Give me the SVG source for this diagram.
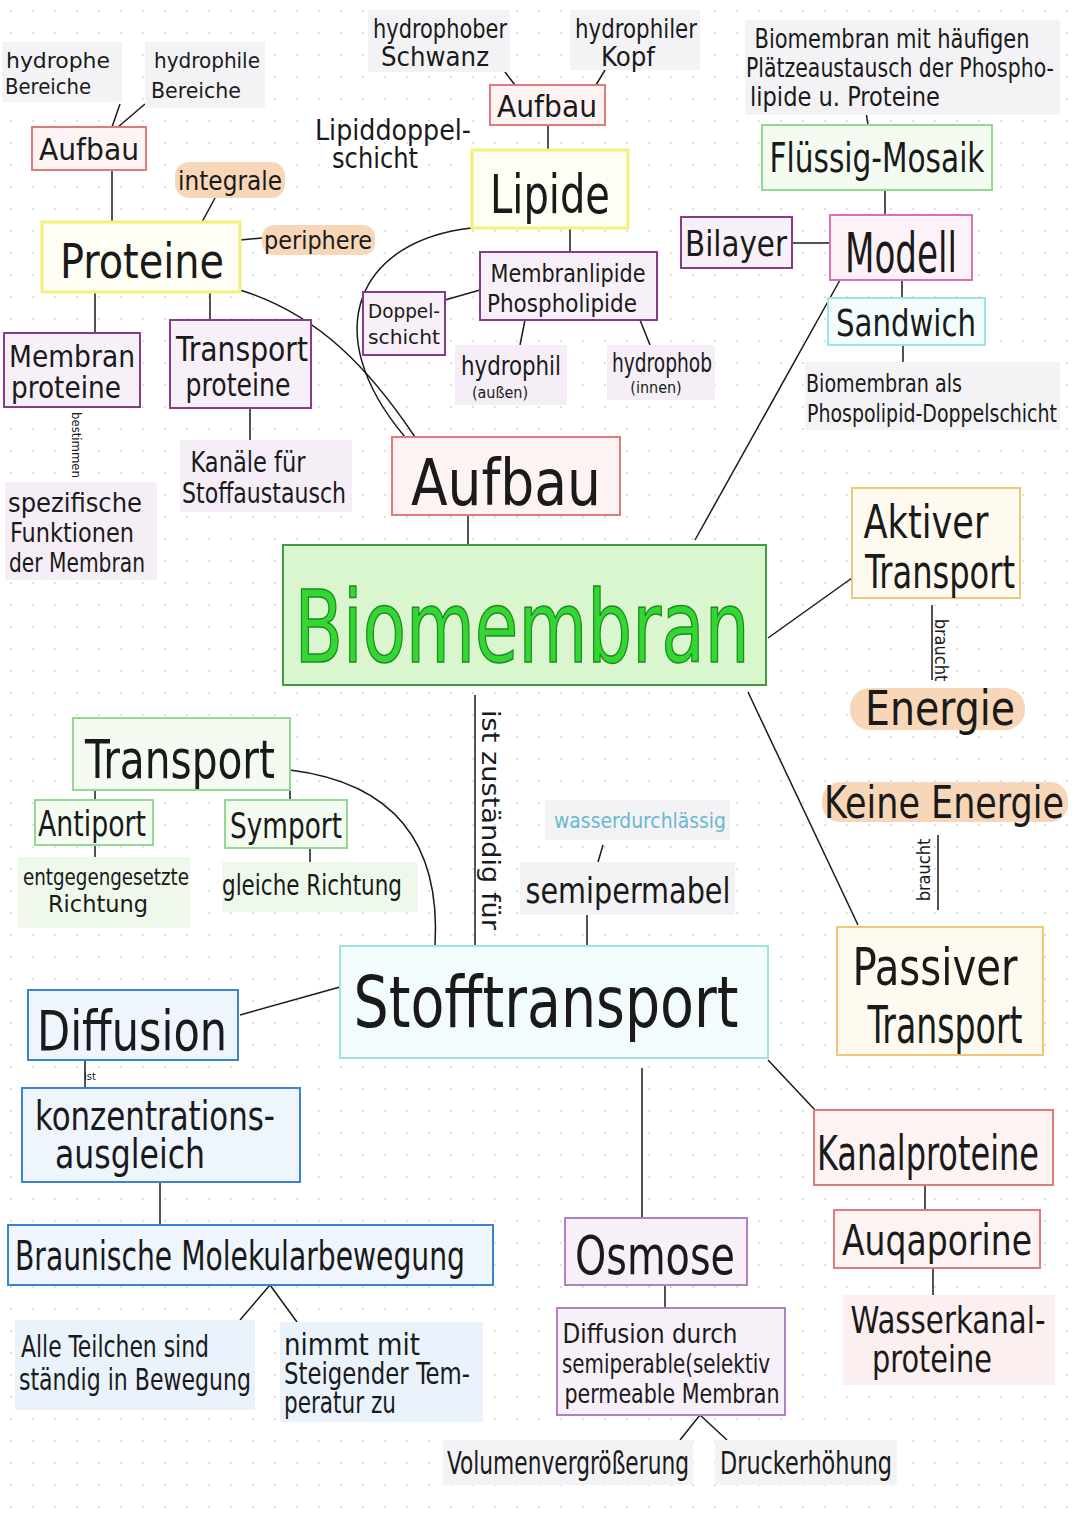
<svg xmlns="http://www.w3.org/2000/svg" width="1080" height="1525" viewBox="0 0 1080 1525">
<defs>
<pattern id="dots" width="22" height="22" patternUnits="userSpaceOnUse"><circle cx="11" cy="11" r="1" fill="#d4d4d8"/></pattern>
<style>
text{font-family:"DejaVu Sans Condensed","Liberation Sans",sans-serif;fill:#1a1a1a;text-anchor:middle}
.n{fill:#f3f3f6;stroke:none}
.red{fill:#fdf3f3;stroke:#e07b7b;stroke-width:2}
.yel{fill:#fffef4;stroke:#f3ef7a;stroke-width:3}
.pur{fill:#f8f0f8;stroke:#8a3a8a;stroke-width:2}
.grn{fill:#f4fcf2;stroke:#94d894;stroke-width:2}
.cyn{fill:#f3fcfc;stroke:#9fe3e3;stroke-width:2}
.blu{fill:#eef5fd;stroke:#3a82d2;stroke-width:2}
.org{fill:#fffaf0;stroke:#f2c677;stroke-width:2}
.mag{fill:#fdf2f8;stroke:#e070b0;stroke-width:2}
.lp{fill:#f5eef7;stroke:none}
.lg{fill:#eef9ec;stroke:none}
.lb{fill:#eaf3fc;stroke:none}
.lr{fill:#fcefef;stroke:none}
.hl{fill:#f7d7b8;stroke:none}
.c line,.c path{stroke:#1a1a1a;stroke-width:1.5;fill:none}
</style>
</defs>
<rect width="1080" height="1525" fill="#fff"/>
<rect width="1080" height="1525" fill="url(#dots)"/>

<g class="c" id="connectors">
<line x1="112" y1="127" x2="120" y2="104"/><line x1="118" y1="127" x2="145" y2="104"/>
<line x1="112" y1="170" x2="112" y2="222"/>
<line x1="215" y1="198" x2="202" y2="222"/>
<line x1="240" y1="240" x2="262" y2="238"/>
<line x1="95" y1="292" x2="95" y2="333"/>
<line x1="210" y1="292" x2="210" y2="320"/>
<line x1="250" y1="408" x2="250" y2="440"/>
<path d="M240 290 C320 315 370 370 415 437"/>
<line x1="505" y1="72" x2="515" y2="85"/><line x1="605" y1="70" x2="596" y2="85"/>
<line x1="548" y1="125" x2="548" y2="150"/>
<path d="M472 228 C360 240 315 330 405 437"/>
<line x1="570" y1="228" x2="570" y2="252"/>
<line x1="445" y1="300" x2="480" y2="290"/>
<line x1="525" y1="320" x2="520" y2="345"/><line x1="640" y1="320" x2="650" y2="345"/>
<line x1="468" y1="515" x2="468" y2="545"/>
<line x1="695" y1="540" x2="840" y2="280"/>
<line x1="792" y1="243" x2="830" y2="243"/>
<line x1="885" y1="215" x2="885" y2="190"/><line x1="868" y1="125" x2="866" y2="112"/>
<line x1="902" y1="280" x2="902" y2="298"/><line x1="903" y1="345" x2="903" y2="362"/>
<line x1="768" y1="638" x2="852" y2="578"/>
<line x1="748" y1="692" x2="858" y2="925"/>
<line x1="475" y1="695" x2="475" y2="946"/>
<path d="M290 770 C410 785 440 860 435 946"/>
<line x1="95" y1="790" x2="95" y2="800"/><line x1="290" y1="790" x2="290" y2="800"/>
<line x1="95" y1="845" x2="95" y2="857"/><line x1="310" y1="848" x2="310" y2="862"/>
<line x1="603" y1="845" x2="598" y2="862"/><line x1="587" y1="915" x2="587" y2="946"/>
<line x1="340" y1="987" x2="240" y2="1015"/>
<line x1="85" y1="1060" x2="85" y2="1088"/>
<line x1="160" y1="1182" x2="160" y2="1225"/>
<line x1="270" y1="1285" x2="240" y2="1320"/><line x1="270" y1="1285" x2="297" y2="1322"/>
<line x1="642" y1="1068" x2="642" y2="1218"/>
<line x1="665" y1="1285" x2="665" y2="1308"/>
<line x1="700" y1="1415" x2="680" y2="1440"/><line x1="700" y1="1415" x2="727" y2="1440"/>
<line x1="768" y1="1060" x2="815" y2="1110"/>
<line x1="925" y1="1185" x2="925" y2="1210"/><line x1="933" y1="1268" x2="933" y2="1295"/>
<line x1="932" y1="605" x2="932" y2="680"/><line x1="938" y1="835" x2="938" y2="910"/>
</g>

<g id="hydrophobeBereiche"><rect class="n" x="2" y="42" width="120" height="60"/><text x="58" y="68" font-size="22" textLength="104" lengthAdjust="spacingAndGlyphs">hydrophe</text><text x="48" y="94" font-size="22" textLength="86" lengthAdjust="spacingAndGlyphs">Bereiche</text></g>
<g id="hydrophileBereiche"><rect class="n" x="145" y="42" width="120" height="66"/><text x="207" y="68" font-size="22" textLength="106" lengthAdjust="spacingAndGlyphs">hydrophile</text><text x="196" y="98" font-size="22" textLength="90" lengthAdjust="spacingAndGlyphs">Bereiche</text></g>
<g id="aufbauP"><rect class="red" x="32" y="127" width="114" height="43"/><text x="89" y="160" font-size="30" textLength="100" lengthAdjust="spacingAndGlyphs">Aufbau</text></g>
<g id="integrale"><rect class="hl" x="175" y="162" width="110" height="36" rx="14"/><text x="230" y="190" font-size="26" textLength="104" lengthAdjust="spacingAndGlyphs">integrale</text></g>
<g id="proteine"><rect class="yel" x="42" y="222" width="198" height="70"/><text x="142" y="278" font-size="48" textLength="164" lengthAdjust="spacingAndGlyphs">Proteine</text></g>
<g id="periphere"><rect class="hl" x="262" y="225" width="113" height="30" rx="12"/><text x="318" y="249" font-size="25" textLength="108" lengthAdjust="spacingAndGlyphs">periphere</text></g>
<g id="membranproteine"><rect class="pur" x="4" y="333" width="136" height="74"/><text x="72" y="367" font-size="30" textLength="126" lengthAdjust="spacingAndGlyphs">Membran</text><text x="66" y="398" font-size="30" textLength="110" lengthAdjust="spacingAndGlyphs">proteine</text></g>
<g id="transportproteine"><rect class="pur" x="170" y="320" width="141" height="88"/><text x="242" y="361" font-size="34" textLength="132" lengthAdjust="spacingAndGlyphs">Transport</text><text x="238" y="396" font-size="32" textLength="105" lengthAdjust="spacingAndGlyphs">proteine</text></g>
<g id="bestimmen"><text x="0" y="0" font-size="13" transform="translate(72,445) rotate(90)">bestimmen</text></g>
<g id="spezifisch"><rect class="lp" x="5" y="482" width="152" height="98"/><text x="75" y="512" font-size="26" textLength="134" lengthAdjust="spacingAndGlyphs">spezifische</text><text x="72" y="542" font-size="26" textLength="124" lengthAdjust="spacingAndGlyphs">Funktionen</text><text x="77" y="572" font-size="26" textLength="136" lengthAdjust="spacingAndGlyphs">der Membran</text></g>
<g id="kanaele"><rect class="lp" x="180" y="440" width="172" height="72"/><text x="248" y="472" font-size="28" textLength="115" lengthAdjust="spacingAndGlyphs">Kanäle für</text><text x="264" y="503" font-size="28" textLength="164" lengthAdjust="spacingAndGlyphs">Stoffaustausch</text></g>
<g id="hydrophober"><rect class="n" x="368" y="10" width="142" height="62"/><text x="440" y="38" font-size="26" textLength="134" lengthAdjust="spacingAndGlyphs">hydrophober</text><text x="435" y="66" font-size="26" textLength="108" lengthAdjust="spacingAndGlyphs">Schwanz</text></g>
<g id="hydrophiler"><rect class="n" x="570" y="10" width="130" height="60"/><text x="636" y="38" font-size="26" textLength="122" lengthAdjust="spacingAndGlyphs">hydrophiler</text><text x="628" y="66" font-size="26" textLength="54" lengthAdjust="spacingAndGlyphs">Kopf</text></g>
<g id="aufbauL"><rect class="red" x="490" y="85" width="115" height="40"/><text x="547" y="117" font-size="30" textLength="100" lengthAdjust="spacingAndGlyphs">Aufbau</text></g>
<g id="lipiddoppel"><text x="393" y="140" font-size="28" textLength="156" lengthAdjust="spacingAndGlyphs">Lipiddoppel-</text><text x="375" y="168" font-size="28" textLength="86" lengthAdjust="spacingAndGlyphs">schicht</text></g>
<g id="lipide"><rect class="yel" x="472" y="150" width="156" height="78"/><text x="550" y="213" font-size="54" textLength="120" lengthAdjust="spacingAndGlyphs">Lipide</text></g>
<g id="membranlipide"><rect class="pur" x="480" y="252" width="177" height="68"/><text x="568" y="282" font-size="24" textLength="155" lengthAdjust="spacingAndGlyphs">Membranlipide</text><text x="562" y="312" font-size="24" textLength="150" lengthAdjust="spacingAndGlyphs">Phospholipide</text></g>
<g id="doppelschicht"><rect class="pur" x="363" y="292" width="82" height="63"/><text x="404" y="318" font-size="20" textLength="72" lengthAdjust="spacingAndGlyphs">Doppel-</text><text x="404" y="344" font-size="20" textLength="72" lengthAdjust="spacingAndGlyphs">schicht</text></g>
<g id="hydrophil"><rect class="lp" x="455" y="345" width="112" height="60"/><text x="511" y="375" font-size="26" textLength="100" lengthAdjust="spacingAndGlyphs">hydrophil</text><text x="500" y="398" font-size="16">(außen)</text></g>
<g id="hydrophob"><rect class="lp" x="607" y="345" width="108" height="55"/><text x="662" y="372" font-size="26" textLength="100" lengthAdjust="spacingAndGlyphs">hydrophob</text><text x="656" y="393" font-size="16">(innen)</text></g>
<g id="aufbauMain"><rect class="red" x="392" y="437" width="228" height="78"/><text x="506" y="505" font-size="64" textLength="190" lengthAdjust="spacingAndGlyphs">Aufbau</text></g>
<g id="fluessigText"><rect class="n" x="745" y="20" width="315" height="95"/><text x="892" y="48" font-size="26" textLength="275" lengthAdjust="spacingAndGlyphs">Biomembran mit häufigen</text><text x="900" y="77" font-size="26" textLength="308" lengthAdjust="spacingAndGlyphs">Plätzeaustausch der Phospho-</text><text x="845" y="106" font-size="26" textLength="190" lengthAdjust="spacingAndGlyphs">lipide u. Proteine</text></g>
<g id="fluessig"><rect class="grn" x="762" y="125" width="230" height="65"/><text x="877" y="172" font-size="40" textLength="215" lengthAdjust="spacingAndGlyphs">Flüssig-Mosaik</text></g>
<g id="bilayer"><rect class="pur" x="681" y="217" width="111" height="51"/><text x="736" y="256" font-size="36" textLength="102" lengthAdjust="spacingAndGlyphs">Bilayer</text></g>
<g id="modell"><rect class="mag" x="830" y="215" width="142" height="65"/><text x="901" y="272" font-size="56" textLength="112" lengthAdjust="spacingAndGlyphs">Modell</text></g>
<g id="sandwich"><rect class="cyn" x="828" y="298" width="157" height="47"/><text x="906" y="336" font-size="38" textLength="140" lengthAdjust="spacingAndGlyphs">Sandwich</text></g>
<g id="sandwichText"><rect class="n" x="805" y="362" width="255" height="68"/><text x="884" y="392" font-size="25" textLength="156" lengthAdjust="spacingAndGlyphs">Biomembran als</text><text x="932" y="422" font-size="25" textLength="250" lengthAdjust="spacingAndGlyphs">Phospolipid-Doppelschicht</text></g>
<g id="biomembran"><rect x="283" y="545" width="483" height="140" fill="#d9f6cf" stroke="#3e9b3e" stroke-width="2"/><text x="522" y="662" font-size="100" textLength="455" lengthAdjust="spacingAndGlyphs" style="fill:#33d633;stroke:#1e8a1e;stroke-width:1.5">Biomembran</text></g>
<g id="aktiver"><rect class="org" x="852" y="488" width="168" height="110"/><text x="926" y="538" font-size="46" textLength="125" lengthAdjust="spacingAndGlyphs">Aktiver</text><text x="940" y="588" font-size="46" textLength="150" lengthAdjust="spacingAndGlyphs">Transport</text></g>
<g id="braucht1"><text x="0" y="0" font-size="18" transform="translate(935,650) rotate(90)">braucht</text></g>
<g id="energie"><rect class="hl" x="850" y="688" width="175" height="42" rx="20"/><text x="940" y="725" font-size="48" textLength="150" lengthAdjust="spacingAndGlyphs">Energie</text></g>
<g id="keineEnergie"><rect class="hl" x="822" y="782" width="246" height="40" rx="18"/><text x="944" y="818" font-size="44" textLength="240" lengthAdjust="spacingAndGlyphs">Keine Energie</text></g>
<g id="braucht2"><text x="0" y="0" font-size="18" transform="translate(930,870) rotate(-90)">braucht</text></g>
<g id="passiver"><rect class="org" x="837" y="927" width="206" height="128"/><text x="935" y="985" font-size="52" textLength="165" lengthAdjust="spacingAndGlyphs">Passiver</text><text x="945" y="1043" font-size="52" textLength="155" lengthAdjust="spacingAndGlyphs">Transport</text></g>
<g id="zustaendig"><text x="0" y="0" font-size="24" transform="translate(482,820) rotate(90)" textLength="220" lengthAdjust="spacingAndGlyphs">ist zuständig für</text></g>
<g id="transport"><rect class="grn" x="73" y="718" width="217" height="72"/><text x="180" y="778" font-size="54" textLength="190" lengthAdjust="spacingAndGlyphs">Transport</text></g>
<g id="antiport"><rect class="grn" x="35" y="800" width="118" height="45"/><text x="92" y="836" font-size="36" textLength="108" lengthAdjust="spacingAndGlyphs">Antiport</text></g>
<g id="symport"><rect class="grn" x="225" y="800" width="122" height="48"/><text x="286" y="838" font-size="36" textLength="112" lengthAdjust="spacingAndGlyphs">Symport</text></g>
<g id="entgegen"><rect class="lg" x="18" y="857" width="172" height="71"/><text x="106" y="885" font-size="23" textLength="166" lengthAdjust="spacingAndGlyphs">entgegengesetzte</text><text x="98" y="912" font-size="23" textLength="100" lengthAdjust="spacingAndGlyphs">Richtung</text></g>
<g id="gleiche"><rect class="lg" x="222" y="862" width="196" height="50"/><text x="312" y="895" font-size="28" textLength="180" lengthAdjust="spacingAndGlyphs">gleiche Richtung</text></g>
<g id="wasserdurch"><rect class="n" x="545" y="800" width="185" height="40"/><text x="640" y="828" font-size="22" textLength="172" lengthAdjust="spacingAndGlyphs" style="fill:#6ab8d0">wasserdurchlässig</text></g>
<g id="semipermabel"><rect class="n" x="520" y="862" width="215" height="53"/><text x="628" y="903" font-size="36" textLength="205" lengthAdjust="spacingAndGlyphs">semipermabel</text></g>
<g id="stofftransport"><rect class="cyn" x="340" y="946" width="428" height="112"/><text x="546" y="1027" font-size="72" textLength="385" lengthAdjust="spacingAndGlyphs">Stofftransport</text></g>
<g id="diffusion"><rect class="blu" x="28" y="990" width="210" height="70"/><text x="132" y="1050" font-size="56" textLength="190" lengthAdjust="spacingAndGlyphs">Diffusion</text></g>
<g id="ist"><text x="90" y="1080" font-size="11">ist</text></g>
<g id="konz"><rect class="blu" x="22" y="1088" width="278" height="94"/><text x="155" y="1130" font-size="40" textLength="240" lengthAdjust="spacingAndGlyphs">konzentrations-</text><text x="130" y="1168" font-size="40" textLength="150" lengthAdjust="spacingAndGlyphs">ausgleich</text></g>
<g id="braunische"><rect class="blu" x="8" y="1225" width="485" height="60"/><text x="240" y="1270" font-size="40" textLength="450" lengthAdjust="spacingAndGlyphs">Braunische Molekularbewegung</text></g>
<g id="alleTeilchen"><rect class="lb" x="15" y="1320" width="240" height="90"/><text x="115" y="1357" font-size="30" textLength="188" lengthAdjust="spacingAndGlyphs">Alle Teilchen sind</text><text x="135" y="1390" font-size="30" textLength="232" lengthAdjust="spacingAndGlyphs">ständig in Bewegung</text></g>
<g id="nimmt"><rect class="lb" x="280" y="1322" width="203" height="100"/><text x="352" y="1355" font-size="30" textLength="136" lengthAdjust="spacingAndGlyphs">nimmt  mit</text><text x="377" y="1384" font-size="30" textLength="186" lengthAdjust="spacingAndGlyphs">Steigender Tem-</text><text x="340" y="1413" font-size="30" textLength="112" lengthAdjust="spacingAndGlyphs">peratur zu</text></g>
<g id="osmose"><rect class="pur" x="565" y="1218" width="182" height="67" style="stroke:#b080c0"/><text x="655" y="1274" font-size="54" textLength="160" lengthAdjust="spacingAndGlyphs">Osmose</text></g>
<g id="osmoseText"><rect class="pur" x="557" y="1308" width="228" height="107" style="stroke:#b080c0"/><text x="650" y="1343" font-size="27" textLength="175" lengthAdjust="spacingAndGlyphs">Diffusion durch</text><text x="666" y="1373" font-size="27" textLength="208" lengthAdjust="spacingAndGlyphs">semiperable(selektiv</text><text x="672" y="1403" font-size="27" textLength="215" lengthAdjust="spacingAndGlyphs">permeable Membran</text></g>
<g id="volumen"><rect class="n" x="443" y="1440" width="250" height="45"/><text x="568" y="1474" font-size="32" textLength="242" lengthAdjust="spacingAndGlyphs">Volumenvergrößerung</text></g>
<g id="druck"><rect class="n" x="715" y="1440" width="182" height="45"/><text x="806" y="1474" font-size="32" textLength="172" lengthAdjust="spacingAndGlyphs">Druckerhöhung</text></g>
<g id="kanalproteine"><rect class="red" x="814" y="1110" width="239" height="75"/><text x="928" y="1170" font-size="48" textLength="222" lengthAdjust="spacingAndGlyphs">Kanalproteine</text></g>
<g id="auqaporine"><rect class="red" x="834" y="1210" width="206" height="58"/><text x="937" y="1255" font-size="42" textLength="190" lengthAdjust="spacingAndGlyphs">Auqaporine</text></g>
<g id="wasserkanal"><rect class="lr" x="843" y="1295" width="212" height="90"/><text x="948" y="1333" font-size="38" textLength="195" lengthAdjust="spacingAndGlyphs">Wasserkanal-</text><text x="932" y="1372" font-size="38" textLength="120" lengthAdjust="spacingAndGlyphs">proteine</text></g>
</svg>
